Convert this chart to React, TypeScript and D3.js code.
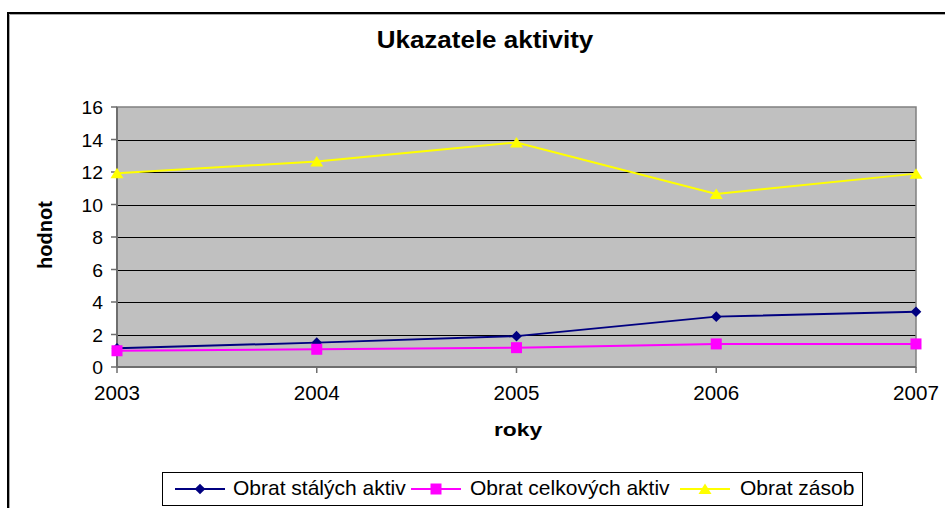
import React from "react";
import * as d3 from "d3";

const years = ["2003", "2004", "2005", "2006", "2007"];
const obratStalychAktiv = [1.15, 1.5, 1.9, 3.1, 3.4];
const obratCelkovychAktiv = [1.0, 1.09, 1.19, 1.42, 1.42];
const obratZasob = [11.92, 12.65, 13.82, 10.65, 11.9];
const yTicks = [0, 2, 4, 6, 8, 10, 12, 14, 16];
const seriesNames = ["Obrat stálých aktiv", "Obrat celkových aktiv", "Obrat zásob"];

const W = 945;
const H = 508;
const plot = { left: 117, right: 916, top: 107, bottom: 367 };
const FONT = "'Liberation Sans', Arial, sans-serif";

type Marker = "diamond" | "square" | "triangle";
const series: { name: string; values: number[]; color: string; marker: Marker }[] = [
  { name: seriesNames[0], values: obratStalychAktiv, color: "#000080", marker: "diamond" },
  { name: seriesNames[1], values: obratCelkovychAktiv, color: "#FF00FF", marker: "square" },
  { name: seriesNames[2], values: obratZasob, color: "#FFFF00", marker: "triangle" },
];

function markerPath(m: Marker): string {
  if (m === "diamond") return d3.symbol(d3.symbolDiamond2, 72)() as string;
  if (m === "square") return d3.symbol(d3.symbolSquare, 121)() as string;
  return "M0,-5.5L6.5,5L-6.5,5Z";
}

function SText(props: {
  x: number;
  y: number;
  sx?: number;
  size: number;
  anchor?: "start" | "middle" | "end";
  bold?: boolean;
  children: React.ReactNode;
}) {
  const { x, y, sx = 1, size, anchor = "start", bold, children } = props;
  return (
    <text
      transform={`translate(${x},${y}) scale(${sx},1)`}
      textAnchor={anchor}
      fontSize={size}
      fontWeight={bold ? "bold" : "normal"}
    >
      {children}
    </text>
  );
}

export default function App() {
  const x = d3.scalePoint<string>().domain(years).range([plot.left, plot.right]);
  const y = d3.scaleLinear().domain([0, 16]).range([plot.bottom, plot.top]);
  const line = d3
    .line<number>()
    .x((_, i) => x(years[i]) as number)
    .y((d) => y(d));

  const legendItems = [
    { lx: 175, tx: 233 },
    { lx: 411, tx: 470 },
    { lx: 680, tx: 740 },
  ];

  return (
    <svg
      width={W}
      height={H}
      style={{ position: "absolute", left: 0, top: 0, background: "#fff" }}
      fontFamily={FONT}
    >
      {/* outer chart border */}
      <path d={`M8,${H} V13 H${W}`} fill="none" stroke="#000" strokeWidth={2} />
      <path d={`M9.5,${H} V14.5 H${W}`} fill="none" stroke="#a8a8a8" strokeWidth={1} />

      <SText x={485} y={48} size={23} sx={1.13} anchor="middle" bold>
        Ukazatele aktivity
      </SText>

      {/* plot area */}
      <rect x={plot.left} y={plot.top} width={plot.right - plot.left} height={plot.bottom - plot.top} fill="#C0C0C0" />
      {yTicks
        .filter((t) => t > 0 && t < 16)
        .map((t) => (
          <line key={t} x1={plot.left} x2={plot.right} y1={Math.round(y(t)) + 0.5} y2={Math.round(y(t)) + 0.5} stroke="#000" strokeWidth={1} />
        ))}
      <rect
        x={plot.left}
        y={plot.top}
        width={plot.right - plot.left}
        height={plot.bottom - plot.top}
        fill="none"
        stroke="#808080"
        strokeWidth={1.5}
      />
      {/* axes */}
      <line x1={plot.left} x2={plot.left} y1={plot.top} y2={plot.bottom} stroke="#6e6e6e" strokeWidth={2} />
      <line x1={plot.left} x2={plot.right} y1={plot.bottom} y2={plot.bottom} stroke="#6e6e6e" strokeWidth={2} />
      {yTicks.map((t) => (
        <g key={t}>
          <line x1={plot.left - 6} x2={plot.left} y1={y(t)} y2={y(t)} stroke="#6e6e6e" strokeWidth={1.5} />
          <SText x={103} y={y(t) + 7} size={19} sx={1.02} anchor="end">
            {t}
          </SText>
        </g>
      ))}
      {years.map((yr) => (
        <g key={yr}>
          <line x1={x(yr)} x2={x(yr)} y1={plot.bottom} y2={plot.bottom + 6} stroke="#6e6e6e" strokeWidth={1.5} />
          <SText x={x(yr) as number} y={400} size={20} sx={1.03} anchor="middle">
            {yr}
          </SText>
        </g>
      ))}
      <SText x={518} y={436} size={19} sx={1.2} anchor="middle" bold>
        roky
      </SText>
      <text
        transform="translate(52,235) rotate(-90)"
        textAnchor="middle"
        fontSize={20}
        fontWeight="bold"
      >
        hodnot
      </text>

      {/* series */}
      {series.map((s) => (
        <g key={s.name}>
          <path d={line(s.values) as string} fill="none" stroke={s.color} strokeWidth={2} />
          {s.values.map((v, i) => (
            <path
              key={i}
              d={markerPath(s.marker)}
              transform={`translate(${x(years[i])},${y(v)})`}
              fill={s.color}
            />
          ))}
        </g>
      ))}

      {/* legend */}
      <rect x={162.5} y={472.5} width={700} height={33} fill="#fff" stroke="#000" strokeWidth={1} />
      {series.map((s, i) => (
        <g key={s.name}>
          <line x1={legendItems[i].lx} x2={legendItems[i].lx + 50} y1={489} y2={489} stroke={s.color} strokeWidth={2} />
          <path d={markerPath(s.marker)} transform={`translate(${legendItems[i].lx + 25},489)`} fill={s.color} />
          <SText x={legendItems[i].tx} y={495} size={21}>
            {s.name}
          </SText>
        </g>
      ))}
    </svg>
  );
}
